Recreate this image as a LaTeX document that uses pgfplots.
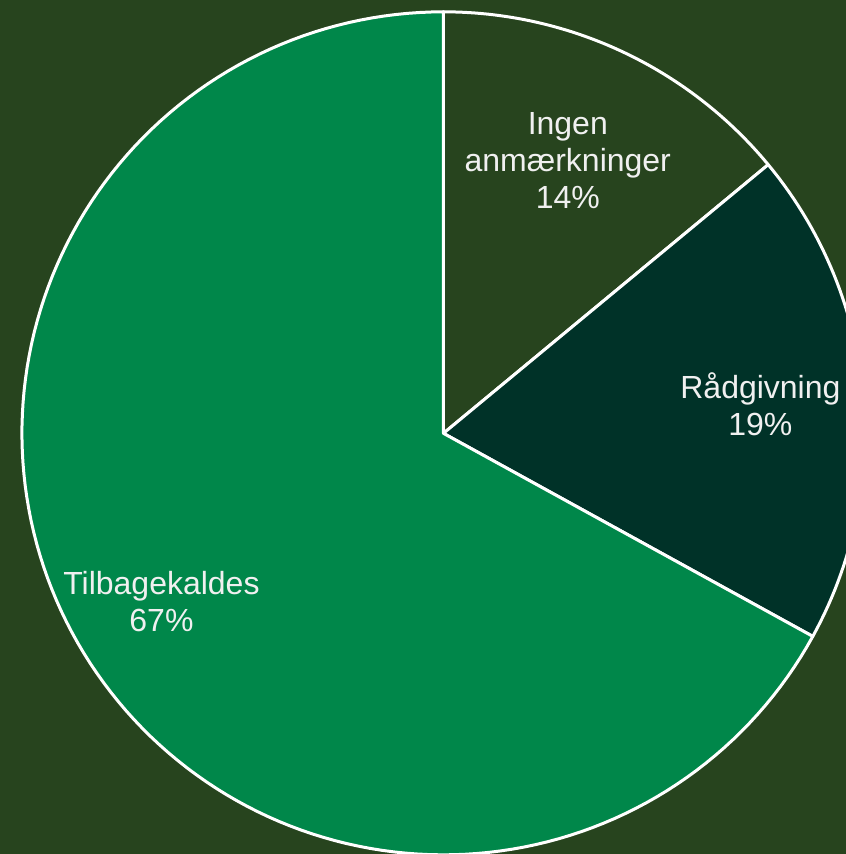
\documentclass[border=0pt]{standalone}
\usepackage{pgfplots}
\pgfplotsset{compat=1.18}
\usepackage{fontspec}
\setmainfont{Liberation Sans}
\definecolor{bg}{HTML}{27441E}
\definecolor{cIngen}{HTML}{27441E}
\definecolor{cRaad}{HTML}{003228}
\definecolor{cTilb}{HTML}{00874A}
\definecolor{txt}{HTML}{F0F0F0}
\begin{document}
\begin{tikzpicture}
% shares in percent
\def\pA{14}\def\pB{19}\def\pC{67}
\pgfmathsetmacro{\aA}{90}
\pgfmathsetmacro{\aB}{90-3.6*\pA}
\pgfmathsetmacro{\aC}{\aB-3.6*\pB}
\pgfmathsetmacro{\aD}{\aC-3.6*\pC}
\begin{axis}[
  scale only axis,
  width=423pt, height=427pt,
  xmin=-1.052, xmax=0.955,
  ymin=-0.998, ymax=1.028,
  hide axis,
  clip=true,
]
\fill[bg] (rel axis cs:0,0) rectangle (rel axis cs:1,1);
\addplot[fill=cIngen, draw=white, line width=1.5pt, line join=round, domain=\aA:\aB, samples=60, variable=\t] ({cos(\t)},{sin(\t)}) -- (axis cs:0,0) -- cycle;
\addplot[fill=cRaad, draw=white, line width=1.5pt, line join=round, domain=\aB:\aC, samples=60, variable=\t] ({cos(\t)},{sin(\t)}) -- (axis cs:0,0) -- cycle;
\addplot[fill=cTilb, draw=white, line width=1.5pt, line join=round, domain=\aC:\aD, samples=150, variable=\t] ({cos(\t)},{sin(\t)}) -- (axis cs:0,0) -- cycle;
\node[align=center, text=txt, font=\fontsize{16}{18.5}\selectfont] at (axis cs:0.295,0.648) {Ingen\\anmærkninger\\14\%};
\node[align=center, text=txt, font=\fontsize{16}{18.5}\selectfont] at (axis cs:0.752,0.069) {Rådgivning\\19\%};
\node[align=center, text=txt, font=\fontsize{16}{18.5}\selectfont] at (axis cs:-0.669,-0.398) {Tilbagekaldes\\67\%};
\end{axis}
\end{tikzpicture}
\end{document}
